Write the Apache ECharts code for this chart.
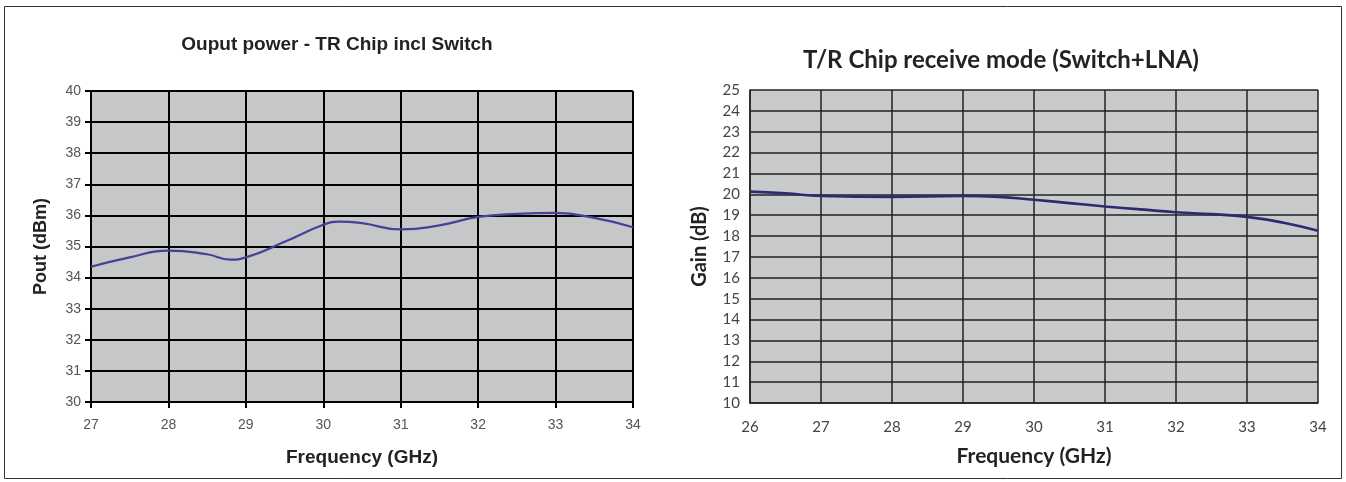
<!DOCTYPE html>
<html><head><meta charset="utf-8">
<script src="https://cdn.jsdelivr.net/npm/echarts@6/dist/echarts.min.js"></script>
<style>html,body{margin:0;padding:0;background:#fff}#c{width:1346px;height:482px}</style>
</head><body><div id="c"></div>
<script>
const powerFreq = [27, 27.5, 28, 28.5, 28.8, 29, 29.5, 30, 30.2, 30.5, 31, 31.5, 32, 32.5, 33, 33.5, 34];
const powerPout = [34.35, 34.65, 34.87, 34.75, 34.58, 34.65, 35.15, 35.7, 35.8, 35.75, 35.55, 35.68, 35.95, 36.05, 36.08, 35.92, 35.62];
const gainFreq = [26, 26.5, 27, 28, 29, 29.5, 30, 30.5, 31, 31.5, 32, 32.5, 33, 33.5, 34];
const gainDb = [20.13, 20.05, 19.92, 19.88, 19.92, 19.88, 19.74, 19.58, 19.42, 19.28, 19.14, 19.05, 18.92, 18.65, 18.25];
const powerXTicks = [27, 28, 29, 30, 31, 32, 33, 34];
const powerYTicks = [30, 31, 32, 33, 34, 35, 36, 37, 38, 39, 40];
const gainXTicks = [26, 27, 28, 29, 30, 31, 32, 33, 34];
const gainYTicks = [10, 11, 12, 13, 14, 15, 16, 17, 18, 19, 20, 21, 22, 23, 24, 25];

const chart = echarts.init(document.getElementById('c'));
const L = 'Liberation Sans, Arial, sans-serif';
const R = 'Lato, Open Sans, sans-serif';
chart.setOption({
  backgroundColor: '#fff',
  animation: false,
  graphic: [{type: 'rect', shape: {x: 4.5, y: 6.5, width: 1337, height: 472}, style: {fill: 'none', stroke: '#333', lineWidth: 1}, silent: true}],
  title: [
    {text: 'Ouput power - TR Chip incl Switch', left: 332, top: 30, textAlign: 'center',
     textStyle: {fontFamily: L, fontSize: 19, fontWeight: 'bold', color: '#222'}},
    {text: 'T/R Chip receive mode (Switch+LNA)', left: 996, top: 43, textAlign: 'center',
     textStyle: {fontFamily: R, fontSize: 24, fontWeight: 'bold', color: '#222'}}
  ],
  grid: [
    {left: 91, top: 91, width: 542, height: 311, show: true, backgroundColor: '#c6c7c9', borderWidth: 0},
    {left: 750, top: 90, width: 568, height: 313, show: true, backgroundColor: '#c9cacc', borderWidth: 0}
  ],
  xAxis: [
    {gridIndex: 0, type: 'value', min: powerXTicks[0], max: powerXTicks[powerXTicks.length - 1], interval: 1,
     name: 'Frequency (GHz)', nameLocation: 'middle', nameGap: 46,
     nameTextStyle: {fontFamily: L, fontSize: 19, fontWeight: 'bold', color: '#222'},
     axisLine: {show: true, lineStyle: {color: '#000', width: 2}},
     axisTick: {show: true, length: 6, lineStyle: {color: '#000', width: 2}},
     axisLabel: {fontFamily: L, fontSize: 14, color: '#555', margin: 16},
     splitLine: {show: true, lineStyle: {color: '#000', width: 2}}},
    {gridIndex: 1, type: 'value', min: gainXTicks[0], max: gainXTicks[gainXTicks.length - 1], interval: 1,
     name: 'Frequency (GHz)', nameLocation: 'middle', nameGap: 43,
     nameTextStyle: {fontFamily: R, fontSize: 21, fontWeight: 'bold', color: '#222'},
     axisLine: {show: true, lineStyle: {color: '#222', width: 1.5}},
     axisTick: {show: false},
     axisLabel: {fontFamily: R, fontSize: 15, color: '#444', margin: 17},
     splitLine: {show: true, lineStyle: {color: '#222', width: 1.5}}},
  ],
  yAxis: [
    {gridIndex: 0, type: 'value', min: powerYTicks[0], max: powerYTicks[powerYTicks.length - 1], interval: 1,
     name: 'Pout (dBm)', nameLocation: 'middle', nameGap: 41, nameRotate: 90,
     nameTextStyle: {fontFamily: L, fontSize: 18, fontWeight: 'bold', color: '#222'},
     axisLine: {show: true, lineStyle: {color: '#000', width: 2}},
     axisTick: {show: true, length: 6, lineStyle: {color: '#000', width: 2}},
     axisLabel: {fontFamily: L, fontSize: 14, color: '#555', margin: 10},
     splitLine: {show: true, lineStyle: {color: '#000', width: 2}}},
    {gridIndex: 1, type: 'value', min: gainYTicks[0], max: gainYTicks[gainYTicks.length - 1], interval: 1,
     name: 'Gain (dB)', nameLocation: 'middle', nameGap: 40, nameRotate: 90,
     nameTextStyle: {fontFamily: R, fontSize: 20, fontWeight: 'bold', color: '#222'},
     axisLine: {show: true, lineStyle: {color: '#222', width: 1.5}},
     axisTick: {show: false},
     axisLabel: {fontFamily: R, fontSize: 15, color: '#444', margin: 10},
     splitLine: {show: true, lineStyle: {color: '#222', width: 1.5}}}
  ],
  series: [
    {type: 'line', xAxisIndex: 0, yAxisIndex: 0, smooth: 0.5, showSymbol: false,
     data: powerFreq.map((f, i) => [f, powerPout[i]]),
     lineStyle: {color: '#473f98', width: 2.2}},
    {type: 'line', xAxisIndex: 1, yAxisIndex: 1, smooth: 0.5, showSymbol: false,
     data: gainFreq.map((f, i) => [f, gainDb[i]]),
     lineStyle: {color: '#2c2a72', width: 2.6}}
  ]
});
</script></body></html>
